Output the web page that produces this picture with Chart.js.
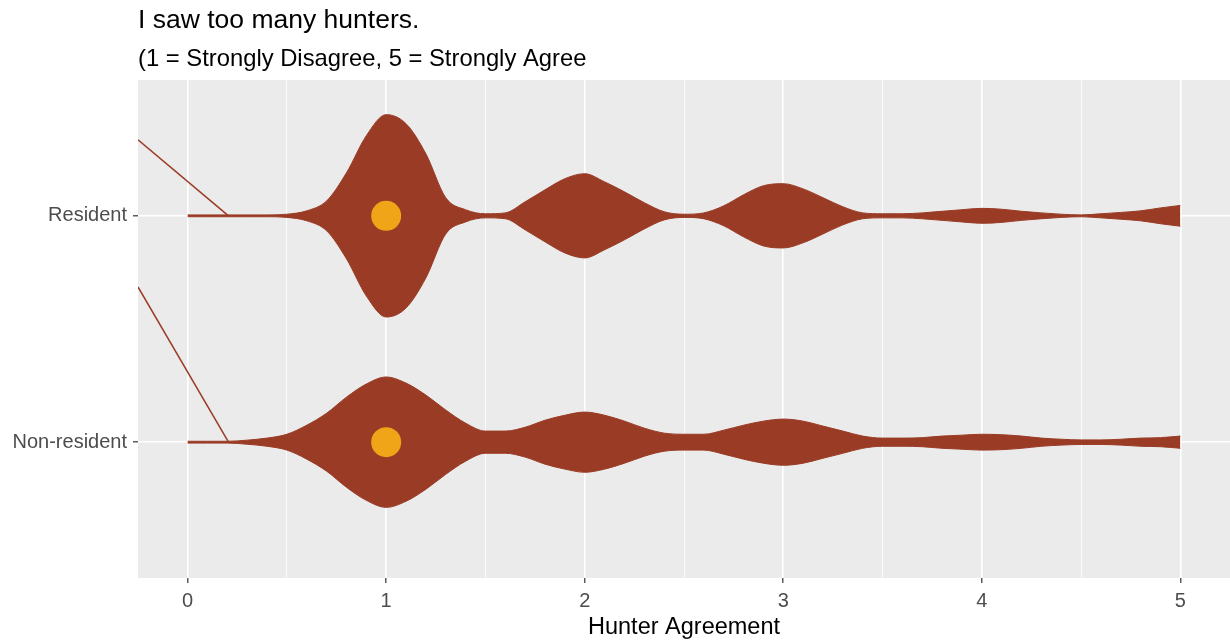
<!DOCTYPE html>
<html lang="en">
<head>
<meta charset="UTF-8">
<title>I saw too many hunters.</title>
<style>
    body {
        margin: 0;
        overflow: hidden;
        background-color: #ffffff;
        font-family: "Liberation Sans", Arial, sans-serif;
    }

    #violinChart {
        display: block;
    }
</style>
</head>
<body>
<canvas id="violinChart" width="1230" height="643"></canvas>

<script src="https://cdn.jsdelivr.net/npm/chart.js@4"></script>
<script>
    const titleText = 'I saw too many hunters.';
    const subtitleText = '(1 = Strongly Disagree, 5 = Strongly Agree';
    const xTitle = 'Hunter Agreement';

    // discrete groups on the y axis (1 = bottom, 2 = top)
    const groups = ['Non-resident', 'Resident'];
    const groupPos = [1, 2];

    const xTicks = [0, 1, 2, 3, 4, 5];
    const xMinor = [0.5, 1.5, 2.5, 3.5, 4.5];

    // agreement values where the violin outline was read
    const gridX = [0.0, 0.1, 0.2, 0.3, 0.4, 0.5, 0.6, 0.7, 0.8, 0.9,
                   1.0, 1.1, 1.2, 1.3, 1.4, 1.5, 1.6, 1.7, 1.8, 1.9,
                   2.0, 2.1, 2.2, 2.3, 2.4, 2.5, 2.6, 2.7, 2.8, 2.9,
                   3.0, 3.1, 3.2, 3.3, 3.4, 3.5, 3.6, 3.7, 3.8, 3.9,
                   4.0, 4.1, 4.2, 4.3, 4.4, 4.5, 4.6, 4.7, 4.8, 4.9,
                   5.0];

    // violin half-width (y units) per group
    const residentWidth = [0.004, 0.004, 0.004, 0.004, 0.004, 0.007, 0.022, 0.066, 0.190, 0.354,
                           0.447, 0.407, 0.274, 0.080, 0.027, 0.009, 0.013, 0.062, 0.115, 0.164,
                           0.186, 0.150, 0.106, 0.058, 0.018, 0.007, 0.013, 0.044, 0.093, 0.133,
                           0.142, 0.119, 0.080, 0.040, 0.013, 0.009, 0.009, 0.013, 0.020, 0.027,
                           0.033, 0.029, 0.020, 0.013, 0.007, 0.004, 0.009, 0.015, 0.022, 0.035,
                           0.046];
    const nonResidentWidth = [0.004, 0.004, 0.004, 0.009, 0.018, 0.035, 0.075, 0.128, 0.199, 0.257,
                              0.288, 0.261, 0.208, 0.142, 0.084, 0.049, 0.049, 0.066, 0.097, 0.119,
                              0.133, 0.119, 0.093, 0.062, 0.040, 0.035, 0.035, 0.053, 0.075, 0.093,
                              0.102, 0.093, 0.071, 0.049, 0.027, 0.018, 0.018, 0.020, 0.027, 0.031,
                              0.035, 0.033, 0.027, 0.018, 0.013, 0.010, 0.010, 0.013, 0.018, 0.020,
                              0.027];

    // group means (Non-resident, Resident)
    const meanX = [1.0, 1.0];

    // stray segments coming in from the left edge
    const strayX = [-0.25, 0.206];
    const residentStrayY = [2.336, 2];
    const nonResidentStrayY = [1.686, 1];

    const violinColor = '#9A3B25';
    const meanColor = '#EFA517';

    function outline(center, widths, sign) {
        return gridX.map((x, i) => ({ x: x, y: center + sign * widths[i] }));
    }

    function lineSet(data, extra) {
        return Object.assign({
            data: data,
            showLine: true,
            borderColor: violinColor,
            backgroundColor: violinColor,
            borderWidth: 1,
            pointRadius: 0,
            cubicInterpolationMode: 'monotone',
            fill: false
        }, extra || {});
    }

    const panelBg = {
        id: 'panelBg',
        beforeDraw(chart) {
            const { ctx, chartArea: a } = chart;
            ctx.save();
            ctx.fillStyle = '#EBEBEB';
            ctx.fillRect(a.left, a.top, a.right - a.left, a.bottom - a.top);
            ctx.restore();
        }
    };

    const titles = {
        id: 'titles',
        afterDraw(chart) {
            const { ctx, chartArea: a } = chart;
            ctx.save();
            ctx.fillStyle = '#000000';
            ctx.textAlign = 'left';
            ctx.textBaseline = 'alphabetic';
            ctx.font = '26.5px "Liberation Sans", Arial, sans-serif';
            ctx.fillText(titleText, a.left, 28);
            ctx.font = '23.8px "Liberation Sans", Arial, sans-serif';
            ctx.fillText(subtitleText, a.left, 66);
            ctx.restore();
        }
    };

    const isMajor = v => xTicks.includes(v);

    const chart = new Chart(document.getElementById('violinChart').getContext('2d'), {
        type: 'scatter',
        data: {
            datasets: [
                {
                    data: meanX.map((x, i) => ({ x: x, y: groupPos[i] })),
                    pointRadius: 15,
                    pointBackgroundColor: meanColor,
                    pointBorderWidth: 0,
                    backgroundColor: meanColor
                },
                lineSet(outline(2, residentWidth, 1)),
                lineSet(outline(2, residentWidth, -1), { fill: 1 }),
                lineSet(outline(1, nonResidentWidth, 1)),
                lineSet(outline(1, nonResidentWidth, -1), { fill: 3 }),
                lineSet(strayX.map((x, i) => ({ x: x, y: residentStrayY[i] })), { borderWidth: 1.5, cubicInterpolationMode: 'default' }),
                lineSet(strayX.map((x, i) => ({ x: x, y: nonResidentStrayY[i] })), { borderWidth: 1.5, cubicInterpolationMode: 'default' })
            ]
        },
        options: {
            responsive: false,
            animation: false,
            layout: {
                autoPadding: false,
                padding: { top: 80, left: 0, right: 0, bottom: 0 }
            },
            plugins: {
                legend: { display: false },
                tooltip: { enabled: false }
            },
            scales: {
                x: {
                    type: 'linear',
                    min: -0.25,
                    max: 5.25,
                    afterBuildTicks: s => {
                        s.ticks = xTicks.concat(xMinor).sort((a, b) => a - b).map(v => ({ value: v }));
                    },
                    afterFit: s => {
                        s.height = 65;
                        s.paddingLeft = 0;
                        s.paddingRight = 0;
                    },
                    border: { display: false },
                    grid: {
                        color: '#FFFFFF',
                        lineWidth: ctx => isMajor(ctx.tick.value) ? 1.6 : 0.8,
                        tickLength: 5,
                        tickWidth: 1.2,
                        tickColor: ctx => isMajor(ctx.tick.value) ? '#333333' : 'rgba(0,0,0,0)'
                    },
                    ticks: {
                        autoSkip: false,
                        maxRotation: 0,
                        padding: 6,
                        color: '#4D4D4D',
                        font: { family: '"Liberation Sans", Arial, sans-serif', size: 20 },
                        callback: v => isMajor(v) ? String(v) : ''
                    },
                    title: {
                        display: true,
                        text: xTitle,
                        color: '#000000',
                        font: { family: '"Liberation Sans", Arial, sans-serif', size: 23.5 },
                        padding: { top: 0, bottom: 1 }
                    }
                },
                y: {
                    type: 'linear',
                    min: 0.4,
                    max: 2.6,
                    afterBuildTicks: s => {
                        s.ticks = groupPos.map(v => ({ value: v }));
                    },
                    afterFit: s => {
                        s.width = 138;
                        s.paddingTop = 0;
                        s.paddingBottom = 0;
                    },
                    border: { display: false },
                    grid: {
                        color: '#FFFFFF',
                        lineWidth: 1.6,
                        tickLength: 5,
                        tickWidth: 1.2,
                        tickColor: '#333333'
                    },
                    ticks: {
                        padding: 6,
                        color: '#4D4D4D',
                        font: { family: '"Liberation Sans", Arial, sans-serif', size: 20 },
                        callback: v => groups[groupPos.indexOf(v)]
                    }
                }
            }
        },
        plugins: [panelBg, titles]
    });
</script>
</body>
</html>
